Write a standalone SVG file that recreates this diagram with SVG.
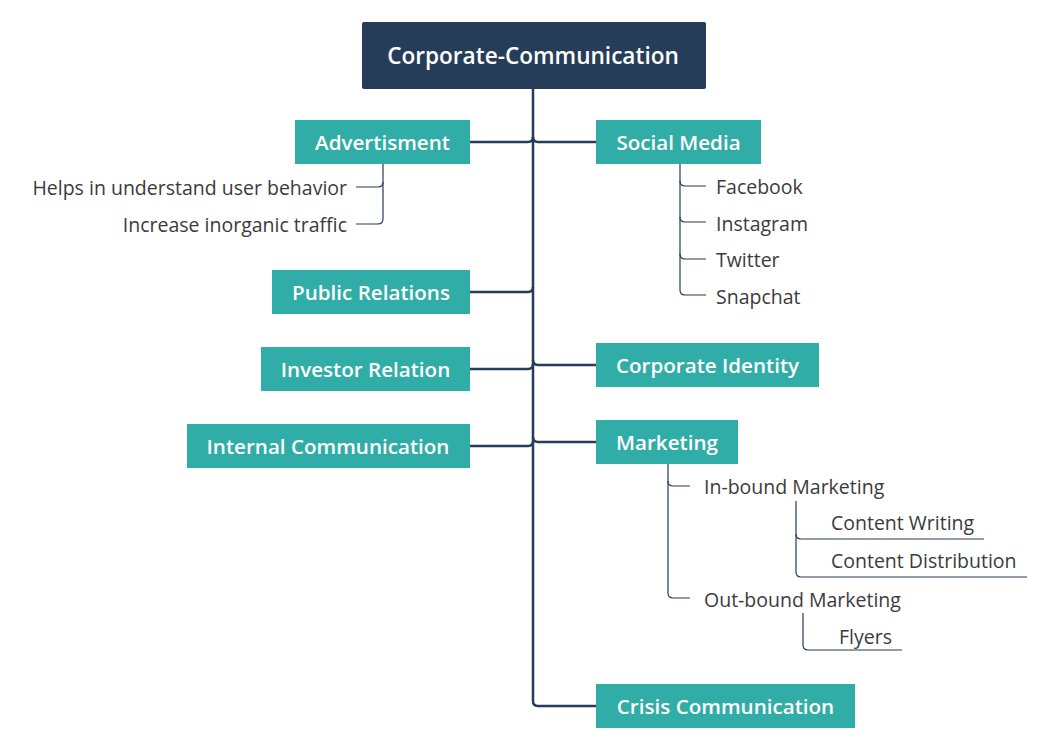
<svg xmlns="http://www.w3.org/2000/svg" width="1047" height="749" viewBox="0 0 1047 749">
<style>
.box{fill:#31ada7}
.lbl{font-family:"Open Sans","Noto Sans",sans-serif;font-size:20.6px;font-weight:600;fill:#ffffff}
.txt{font-family:"Open Sans","Noto Sans",sans-serif;font-size:19.5px;fill:#3b3b3b}
.trunk{fill:none;stroke:#263d5a;stroke-width:2.5}
.sub{fill:none;stroke:#263d5a;stroke-width:1.2}
</style>
<rect width="1047" height="749" fill="#ffffff"/>
<g id="connectors">
<path class="trunk" d="M533,89 V701 Q533,706 538,706 H596"/>
<path class="trunk" d="M470,142 H528 Q533,142 533,137"/>
<path class="trunk" d="M470,292 H528 Q533,292 533,287"/>
<path class="trunk" d="M470,369 H528 Q533,369 533,364"/>
<path class="trunk" d="M470,446 H528 Q533,446 533,441"/>
<path class="trunk" d="M533,137 Q533,142 538,142 H596"/>
<path class="trunk" d="M533,360 Q533,365 538,365 H596"/>
<path class="trunk" d="M533,437 Q533,442 538,442 H596"/>
<path class="sub" d="M383,164 V219 Q383,224 378,224 H356"/>
<path class="sub" d="M383,182 Q383,187 378,187 H356"/>
<path class="sub" d="M680,164 V290 Q680,295 685,295 H706"/>
<path class="sub" d="M680,181 Q680,186 685,186 H706"/>
<path class="sub" d="M680,217 Q680,222 685,222 H706"/>
<path class="sub" d="M680,254 Q680,259 685,259 H706"/>
<path class="sub" d="M668,464 V593 Q668,598 673,598 H690"/>
<path class="sub" d="M668,481 Q668,486 673,486 H690"/>
<path class="sub" d="M796,501 V572 Q796,577 801,577 H1027"/>
<path class="sub" d="M796,534 Q796,539 801,539 H984"/>
<path class="sub" d="M803,613 V645 Q803,650 808,650 H902"/>
</g>
<g id="root">
<rect x="362" y="22" width="344" height="67" rx="2" fill="#263d5a"/>
<text class="lbl" x="533" y="64" text-anchor="middle" style="font-size:22.6px">Corporate-Communication</text>
</g>
<g id="advertisment">
<rect class="box" x="295" y="120" width="175" height="44"/>
<text class="lbl" x="382.5" y="150" text-anchor="middle">Advertisment</text>
</g>
<g id="adv-1"><text class="txt" x="347" y="194.5" text-anchor="end">Helps in understand user behavior</text></g>
<g id="adv-2"><text class="txt" x="347" y="231.5" text-anchor="end">Increase inorganic traffic</text></g>
<g id="social-media">
<rect class="box" x="596" y="120" width="165" height="44"/>
<text class="lbl" x="678.5" y="150" text-anchor="middle">Social Media</text>
</g>
<g id="sm-1"><text class="txt" x="716" y="194">Facebook</text></g>
<g id="sm-2"><text class="txt" x="716" y="231">Instagram</text></g>
<g id="sm-3"><text class="txt" x="716" y="267">Twitter</text></g>
<g id="sm-4"><text class="txt" x="716" y="304">Snapchat</text></g>
<g id="public-relations">
<rect class="box" x="272" y="270" width="198" height="44"/>
<text class="lbl" x="371" y="300" text-anchor="middle">Public Relations</text>
</g>
<g id="investor-relation">
<rect class="box" x="261" y="347" width="209" height="44"/>
<text class="lbl" x="365.5" y="377" text-anchor="middle">Investor Relation</text>
</g>
<g id="internal-communication">
<rect class="box" x="187" y="424" width="283" height="44"/>
<text class="lbl" x="328" y="454" text-anchor="middle">Internal Communication</text>
</g>
<g id="corporate-identity">
<rect class="box" x="596" y="343" width="223" height="44"/>
<text class="lbl" x="707.5" y="373" text-anchor="middle">Corporate Identity</text>
</g>
<g id="marketing">
<rect class="box" x="596" y="420" width="142" height="44"/>
<text class="lbl" x="667" y="450" text-anchor="middle">Marketing</text>
</g>
<g id="inbound"><text class="txt" x="704" y="494">In-bound Marketing</text></g>
<g id="content-writing"><text class="txt" x="831" y="530">Content Writing</text></g>
<g id="content-distribution"><text class="txt" x="831" y="568">Content Distribution</text></g>
<g id="outbound"><text class="txt" x="704" y="607">Out-bound Marketing</text></g>
<g id="flyers"><text class="txt" x="839" y="644">Flyers</text></g>
<g id="crisis-communication">
<rect class="box" x="596" y="684" width="259" height="44"/>
<text class="lbl" x="725.5" y="714" text-anchor="middle">Crisis Communication</text>
</g>
</svg>
